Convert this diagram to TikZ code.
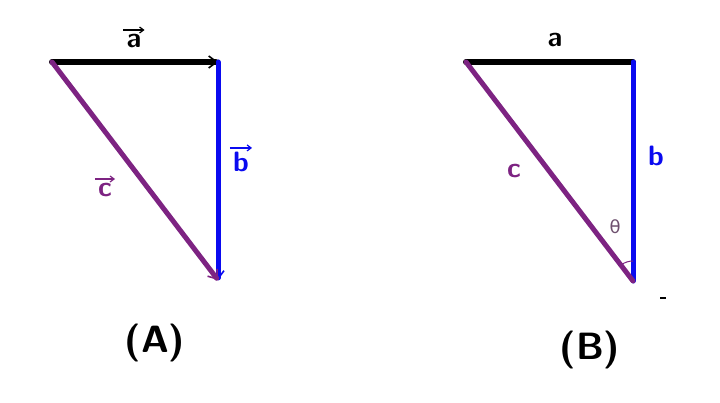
\documentclass[tikz,border=0pt]{standalone}
\usepackage{amsmath}
\usepackage{xcolor}
\usepackage{fontspec}
\newfontfamily\thetafont{DejaVu Sans}
\usetikzlibrary{arrows.meta}
\definecolor{vecpurple}{RGB}{125,35,130}
\definecolor{vecblue}{RGB}{10,10,240}
\definecolor{thetagray}{RGB}{110,80,110}

\begin{document}
\begin{tikzpicture}[
    x=1pt, y=-1pt,
    side/.style={line width=5pt, line cap=round},
    vec/.style={side, -{Straight Barb[length=8pt,width=12pt,line width=1.6pt]}},
    overarrow/.style={line width=1.6pt, -{Straight Barb[length=4pt,width=6pt,line width=1.2pt]}},
    lbl/.style={font=\sffamily\bfseries\fontsize{28}{30}\selectfont, inner sep=1pt},
    caption/.style={font=\sffamily\bfseries\fontsize{38}{40}\selectfont}
]
    \useasboundingbox (0,0) rectangle (720,403);

    % Triangle (A): vectors
    \coordinate (pA) at (52,62);
    \coordinate (qA) at (218,62);
    \coordinate (rA) at (218,280);
    \draw[vec, black, line width=6pt] (pA) -- (qA);
    \draw[vec, vecblue] (qA) -- (rA);
    \draw[vec, vecpurple] (pA) -- (rA);

    \node[lbl] (la) at (134,41) {a};
    \node[lbl, text=vecblue] (lb) at (241,162) {b};
    \node[lbl, text=vecpurple] (lc) at (105,190) {c};
    \draw[overarrow] ([xshift=-2pt,yshift=3pt]la.north west) -- ([xshift=2pt,yshift=3pt]la.north east);
    \draw[overarrow, vecblue] ([xshift=-2pt,yshift=3pt]lb.north west) -- ([xshift=2pt,yshift=3pt]lb.north east);
    \draw[overarrow, vecpurple] ([xshift=-2pt,yshift=3pt]lc.north west) -- ([xshift=2pt,yshift=3pt]lc.north east);
    \node[caption] (capA) at (155,343) {(A)};

    % Triangle (B): magnitudes
    \coordinate (pB) at (466,62);
    \coordinate (qB) at (633,62);
    \coordinate (rB) at (633,281);
    \draw[side, black, line width=6pt] (pB) -- (qB);
    \draw[side, vecblue] (qB) -- (rB);
    \draw[side, vecpurple] (pB) -- (rB);
    \draw[vecpurple, line width=1pt] (rB) ++(0,-20) arc[start angle=270, end angle=234, radius=20];

    \node[lbl] (ma) at (555,40) {a};
    \node[lbl, text=vecblue] (mb) at (656,156) {b};
    \node[lbl, text=vecpurple] (mc) at (514,171) {c};
    \node[text=thetagray, font=\thetafont\fontsize{18}{20}\selectfont] (th) at (615,227) {θ};
    \node[caption] (capB) at (590,350) {(B)};

    % stray mark
    \draw[black, line width=1.5pt] (660,298) -- (666,298);

\end{tikzpicture}
\end{document}
